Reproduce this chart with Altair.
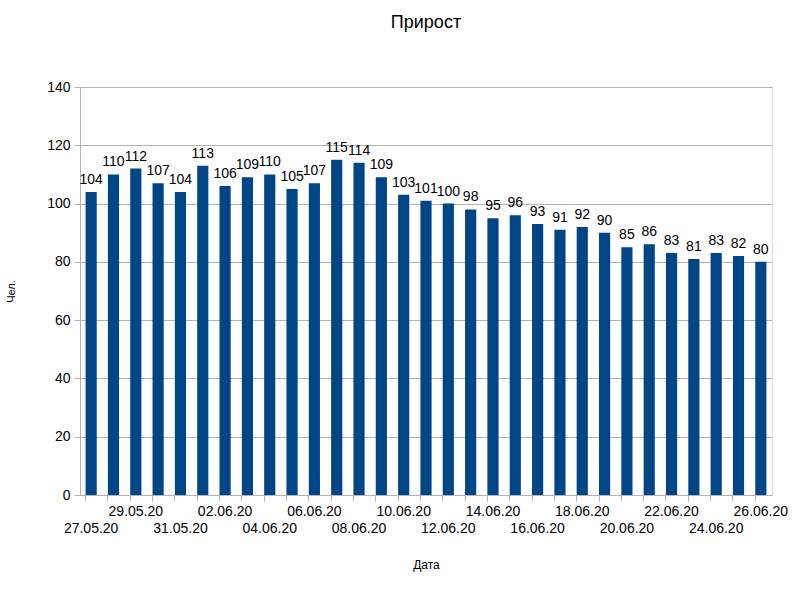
import altair as alt
import pandas as pd

dates = ["27.05.20","28.05.20","29.05.20","30.05.20","31.05.20","01.06.20","02.06.20","03.06.20",
         "04.06.20","05.06.20","06.06.20","07.06.20","08.06.20","09.06.20","10.06.20","11.06.20",
         "12.06.20","13.06.20","14.06.20","15.06.20","16.06.20","17.06.20","18.06.20","19.06.20",
         "20.06.20","21.06.20","22.06.20","23.06.20","24.06.20","25.06.20","26.06.20"]
values = [104,110,112,107,104,113,106,109,110,105,107,115,114,109,103,101,100,98,95,96,93,91,92,90,
          85,86,83,81,83,82,80]
y_ticks = [0,20,40,60,80,100,120,140]

lower_row = dates[0::4]
upper_row = dates[2::4]

df = pd.DataFrame({"date": dates, "value": values})

def js_list(items):
    return "[" + ",".join("'" + s + "'" for s in items) + "]"

label_expr = (f"indexof({js_list(lower_row)}, datum.value) >= 0 ? ['', datum.value] : "
              f"(indexof({js_list(upper_row)}, datum.value) >= 0 ? datum.value : '')")

FONT = "Liberation Sans"

x = alt.X("date:N", sort=dates, title="Дата",
          scale=alt.Scale(paddingInner=0.5, paddingOuter=0.25),
          axis=alt.Axis(labelAngle=0, labelExpr=label_expr, labelOverlap=False,
                        labelFontSize=14, labelColor="#000000", labelFont=FONT,
                        labelBaseline="top", labelLineHeight=17, labelPadding=3,
                        tickColor="#b3b3b3", tickSize=6, bandPosition=0,
                        domainColor="#b3b3b3", titleFont=FONT, titleFontSize=12,
                        titleFontWeight="normal", titlePadding=24, titleColor="#000000"))
y = alt.Y("value:Q", title="Чел.",
          scale=alt.Scale(domain=[0, 140]),
          axis=alt.Axis(values=y_ticks, labelFontSize=14, labelColor="#000000", labelFont=FONT,
                        gridColor="#b3b3b3", tickColor="#b3b3b3", tickSize=6,
                        domainColor="#b3b3b3", titleFont=FONT, titleFontSize=11,
                        titleFontWeight="normal", titleColor="#000000", titlePadding=30,
                        labelPadding=4))

bars = alt.Chart(df).mark_bar(color="#004586").encode(x=x, y=y)
labels = alt.Chart(df).mark_text(baseline="alphabetic", dy=-8, fontSize=14, font=FONT,
                                 color="#000000").encode(x=x, y=y, text="value:Q")

chart = (bars + labels).properties(
    width=692, height=408,
    title=alt.TitleParams("Прирост", font=FONT, fontSize=18, fontWeight="normal",
                          color="#000000", offset=48, anchor="middle"),
    autosize=alt.AutoSizeParams(type="none"),
    padding={"left": 80, "top": 87, "right": 28, "bottom": 105},
).configure_view(stroke="#b3b3b3").configure(background="#ffffff")

chart.save("out.html", embed_options={"renderer": "svg", "actions": False})
